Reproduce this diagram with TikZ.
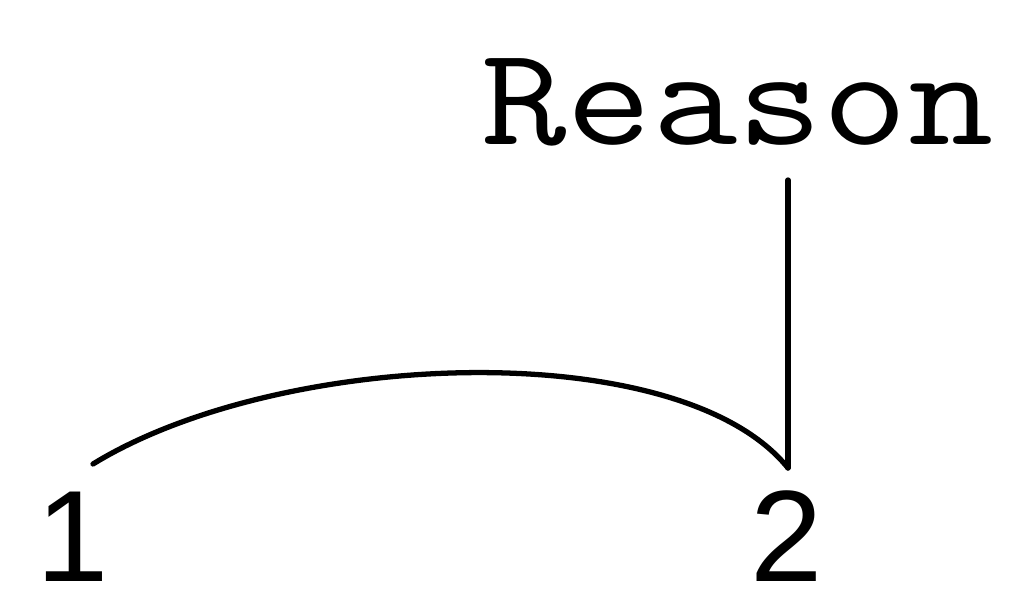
\documentclass[tikz,border=0pt]{standalone}
\usepackage{fontspec}
\setsansfont{Liberation Sans}
\usetikzlibrary{calc}
\definecolor{rsnink}{HTML}{000000}
\tikzset{
  word/.style={inner sep=0pt, anchor=base, text=rsnink, xscale=1.18, transform shape,
    font=\ttfamily\fontsize{40}{40}\selectfont},
  digit/.style={inner sep=0pt, anchor=base, text=rsnink, font=\sffamily\fontsize{37}{37}\selectfont},
  link/.style={draw=rsnink, line width=1.5pt, line cap=round, line join=round},
}
\begin{document}
\begin{tikzpicture}
    \useasboundingbox (0,0) rectangle (10.2,5.89);
    \node[word] (reason) at (7.375,4.44) {Reason};
    \node[digit] (one) at (0.73,0.08) {1};
    \node[digit] (two) at (7.87,0.08) {2};
    \coordinate (foot) at (7.88,1.21);
    \coordinate (tail) at (0.93,1.25);
    \draw[link] (foot |- 0,4.09) -- (foot);
    \draw[link] (tail) .. controls (2.8,2.4) and (6.8,2.55) .. (foot);
  \end{tikzpicture}
\end{document}
